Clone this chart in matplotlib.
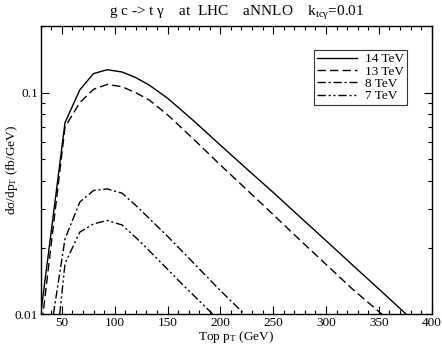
import numpy as np
import matplotlib
matplotlib.use("Agg")
import matplotlib.pyplot as plt
from matplotlib.ticker import FixedLocator, NullFormatter

plt.rcParams['font.family'] = ['Liberation Serif', 'DejaVu Serif']
plt.rcParams['mathtext.fontset'] = 'custom'
plt.rcParams['mathtext.rm'] = 'Liberation Serif'
plt.rcParams['mathtext.it'] = 'Liberation Serif'

# 14 TeV
pt14 = [30, 53, 67, 80, 93, 107, 120, 133, 150, 175, 200, 225, 250, 275, 300, 325, 350, 376]
ds14 = [0.0100, 0.0733, 0.103, 0.122, 0.127, 0.124, 0.117, 0.108, 0.0945,
        0.0745, 0.0580, 0.0453, 0.0355, 0.0276, 0.0215, 0.0167, 0.0130, 0.0100]
# 13 TeV
pt13 = [30, 53, 67, 80, 93, 107, 120, 133, 150, 175, 200, 225, 250, 275, 300, 325, 353]
ds13 = [0.0082, 0.0700, 0.0902, 0.1036, 0.109, 0.1064, 0.1000, 0.0925, 0.0795,
        0.0615, 0.0472, 0.0365, 0.0282, 0.0217, 0.0168, 0.0130, 0.0100]
# 8 TeV
pt8 = [42, 53, 67, 80, 93, 107, 120, 133, 150, 166, 183, 200, 223]
ds8 = [0.0100, 0.0219, 0.0321, 0.0362, 0.0368, 0.0352, 0.0310, 0.0270,
       0.0225, 0.0188, 0.0155, 0.0128, 0.0100]
# 7 TeV
pt7 = [48, 53, 67, 80, 93, 107, 120, 133, 151, 165, 180, 193]
ds7 = [0.0100, 0.01695, 0.0235, 0.0256, 0.0265, 0.0253, 0.0222, 0.0193,
       0.0158, 0.0135, 0.0115, 0.0100]

fig = plt.figure(figsize=(4.42, 3.44), dpi=100)
ax = fig.add_axes([0.0921, 0.0863, 0.8846, 0.8381])

lw = 1.0
ax.plot(pt14, ds14, color='black', lw=lw, ls='-', label='14 TeV')
ax.plot(pt13, ds13, color='black', lw=lw, ls=(0, (6, 3)), label='13 TeV')
ax.plot(pt8, ds8, color='black', lw=lw, ls=(0, (6, 2, 1.5, 2)), label='8 TeV')
ax.plot(pt7, ds7, color='black', lw=lw, ls=(0, (6, 2, 1.5, 2, 1.5, 2)), label='7 TeV')

ax.set_yscale('log')
ax.set_xlim(30, 400)
ax.set_ylim(0.01, 0.2)

ax.xaxis.set_major_locator(FixedLocator([50, 100, 150, 200, 250, 300, 350, 400]))
ax.xaxis.set_minor_locator(FixedLocator(np.arange(30, 400, 10)))
ax.yaxis.set_major_locator(FixedLocator([0.01, 0.1]))
ax.yaxis.set_minor_locator(FixedLocator([0.02, 0.03, 0.04, 0.05, 0.06, 0.07, 0.08, 0.09, 0.2]))
ax.yaxis.set_minor_formatter(NullFormatter())
ax.set_yticklabels(['0.01', '0.1'])

ax.tick_params(which='both', direction='in', top=True, right=True,
               labelsize=9.5, width=0.8, pad=2)
ax.tick_params(which='major', length=6)
ax.tick_params(which='minor', length=3)
for s in ax.spines.values():
    s.set_linewidth(1.0)

ax.set_xlabel(r'Top p$_\mathrm{T}$ (GeV)', fontsize=9.5, labelpad=0)
ax.set_ylabel(r'd$\sigma$/dp$_\mathrm{T}$ (fb/GeV)', fontsize=9.5)
ax.yaxis.set_label_coords(-0.052, 0.5)
ax.set_title(r'g c -> t $\gamma$    at  LHC    aNNLO    k$_{\mathrm{tc}\gamma}$=0.01',
             fontsize=11, pad=7)

leg = ax.legend(loc='upper right', bbox_to_anchor=(0.937, 0.917), fontsize=9.5,
                frameon=True, fancybox=False, edgecolor='black',
                handlelength=3.0, handletextpad=0.6, labelspacing=0.0,
                borderpad=0.25, borderaxespad=0)
leg.get_frame().set_linewidth(0.8)

fig.savefig('out.png', dpi=100)
